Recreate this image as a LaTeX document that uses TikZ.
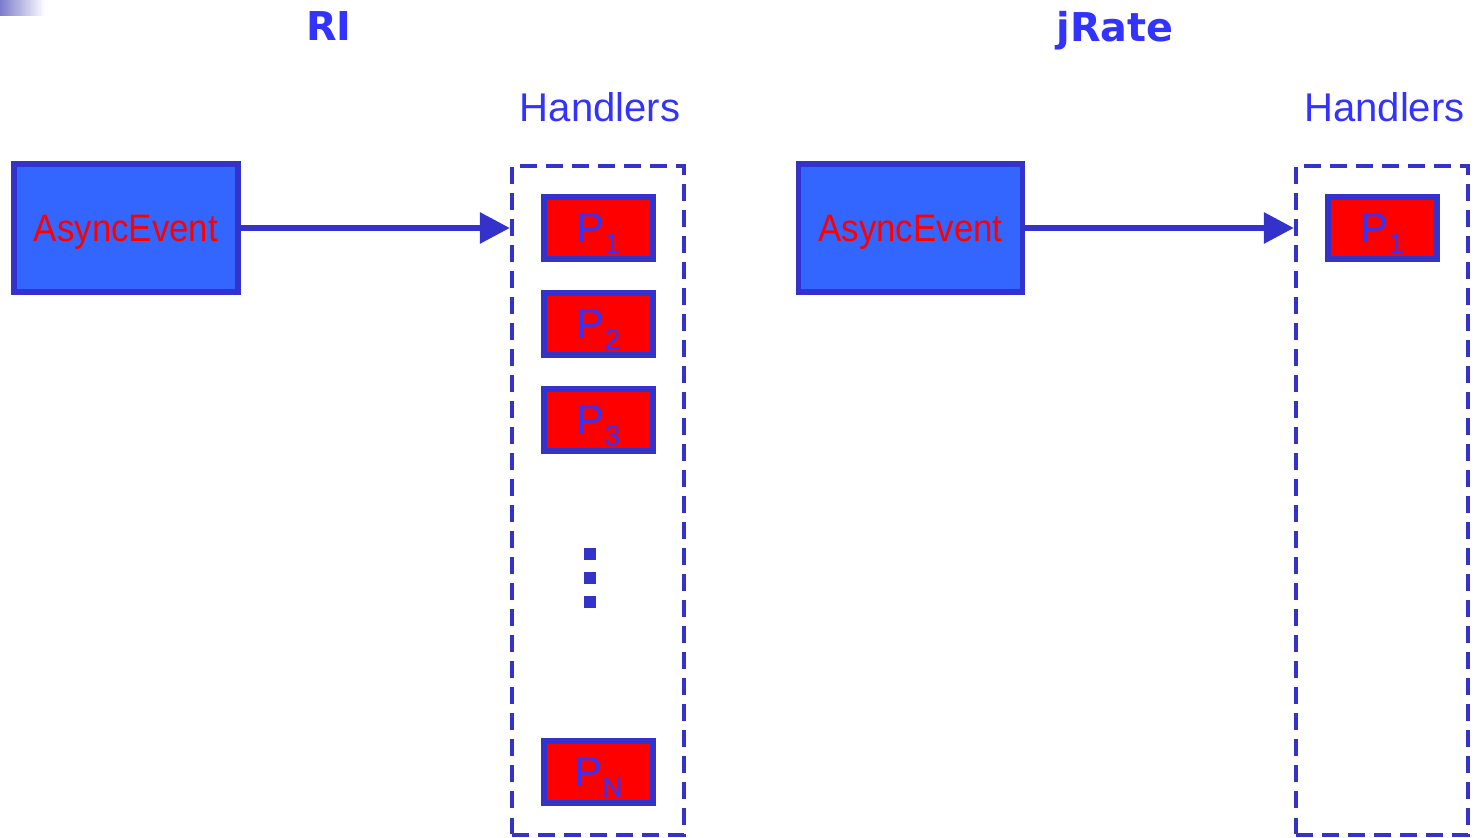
\documentclass[tikz,border=0pt]{standalone}
\usepackage{fontspec}
\setmainfont{Liberation Sans}
\newfontfamily\titlefont{DejaVu Sans}
\newfontfamily\eventfont[FakeStretch=0.91]{Liberation Sans}
\usepackage{xcolor}
\usetikzlibrary{arrows.meta}
\definecolor{evfill}{HTML}{3366FF}
\definecolor{evline}{HTML}{3333CC}
\definecolor{lblue}{HTML}{3333FF}
\definecolor{shadeblue}{HTML}{7C7CCC}
% P with a lowered index
\newcommand{\pname}[1]{P\raisebox{-3.1pt}{\fontsize{8}{8}\selectfont #1}}

\begin{document}
\begin{tikzpicture}[
    event/.style={draw=evline,fill=evfill,line width=1.7pt,minimum width=2.24cm,minimum height=1.28cm,
      inner sep=0pt,text depth=0pt,text=red,font=\eventfont\fontsize{10.9}{13}\selectfont},
    proc/.style={draw=evline,fill=red,line width=1.7pt,minimum width=1.09cm,minimum height=0.62cm,
      inner sep=0pt,text depth=0pt,text=lblue,font=\fontsize{11.9}{13}\selectfont},
    group/.style={draw=evline,dash pattern=on 4.8pt off 2.6pt,line width=1.2pt,
      minimum width=1.72cm,minimum height=6.69cm,inner sep=0pt},
    heading/.style={text=lblue,inner sep=0pt,text depth=0pt,font=\fontsize{11.4}{13}\selectfont},
    title/.style={text=lblue,inner sep=0pt,text depth=0pt,font=\titlefont\bfseries\fontsize{11.3}{13}\selectfont},
    dot/.style={fill=evline,minimum size=0.12cm,inner sep=0pt},
    link/.style={draw=evline,line width=1.7pt,-{Triangle[length=0.3cm,width=0.3cm]}}
  ]
  \useasboundingbox (0,0) rectangle (14.74,-8.38);
  \shade[left color=shadeblue,right color=white] (0,0) rectangle (0.45,-0.16);

  % left side
  \node[title] (riTitle) at (3.29,-0.265) {RI};
  \node[heading] (riHead) at (6.0,-1.067) {Handlers};
  \node[event] (riEvent) at (1.26,-2.28) {AsyncEvent};
  \node[group] (riGroup) at (5.98,-5.005) {};
  \node[proc] (riP1) at (5.985,-2.28) {\pname{1}};
  \node[proc] (riP2) at (5.985,-3.24) {\pname{2}};
  \node[proc] (riP3) at (5.985,-4.20) {\pname{3}};
  \node[proc] (riPN) at (5.985,-7.72) {\pname{N}};
  \foreach \y [count=\i] in {5.54,5.78,6.02}
    \node[dot] (riDot\i) at (5.90,-\y) {};
  \draw[link] (riEvent.east) -- (riEvent.east -| riGroup.west);

  % right side
  \node[title] (jrTitle) at (11.15,-0.265) {jRate};
  \node[heading] (jrHead) at (13.845,-1.067) {Handlers};
  \node[event] (jrEvent) at (9.105,-2.28) {AsyncEvent};
  \node[group] (jrGroup) at (13.82,-5.005) {};
  \node[proc] (jrP1) at (13.825,-2.28) {\pname{1}};
  \draw[link] (jrEvent.east) -- (jrEvent.east -| jrGroup.west);
\end{tikzpicture}
\end{document}
